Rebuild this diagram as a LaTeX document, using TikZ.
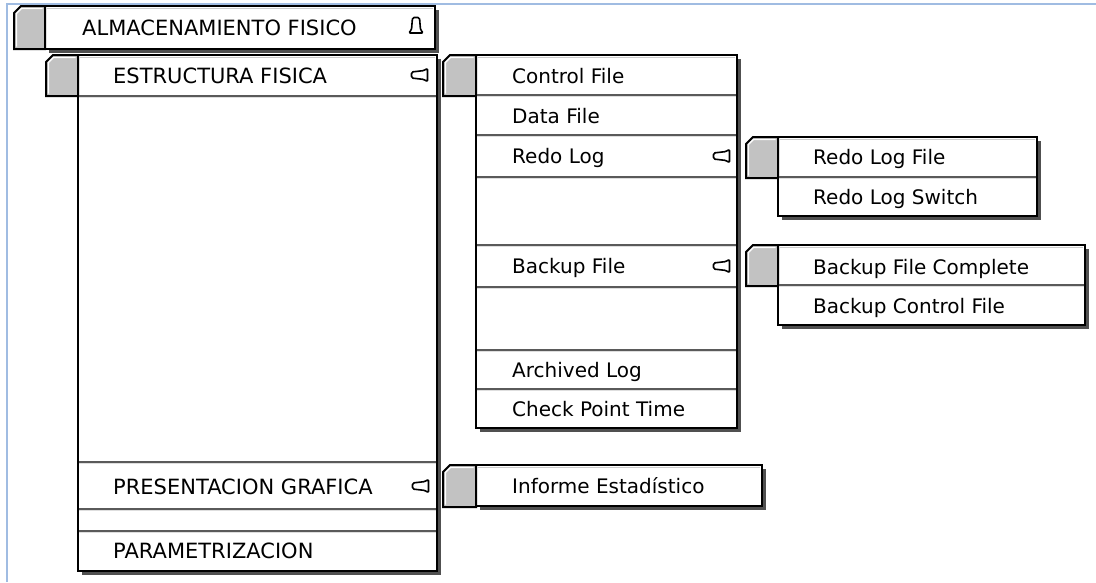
\documentclass[tikz,border=0pt]{standalone}
\usepackage{fontspec}
\newfontfamily\uifont{DejaVu Sans}
\definecolor{frameblue}{RGB}{160,188,226}
\definecolor{tabgrey}{RGB}{194,194,194}
\definecolor{shadowgrey}{RGB}{80,80,80}
\definecolor{sepdark}{RGB}{90,90,90}
\definecolor{seplight}{RGB}{222,222,222}

\tikzset{
  outline/.style={draw=black, line width=2pt, line join=miter},
  item/.style={anchor=base west, inner sep=0pt, font=\uifont\fontsize{20}{24}\selectfont, text=black},
  capsitem/.style={item, font=\uifont\fontsize{21}{25}\selectfont},
  bellline/.style={draw=black, line width=1.6pt, line join=round, rounded corners=1.5pt},
}

% white panel with a dark drop shadow on its right and bottom edges
\newcommand{\menupanel}[4]{%
  \fill[shadowgrey] (#1+3.5,#2+3.5) rectangle (#3+3.5,#4+3.5);
  \filldraw[fill=white, outline] (#1,#2) rectangle (#3,#4);
  \draw[gray!40, line width=1pt] (#1+2,#2+2.5) -- (#3-2,#2+2.5);
}
% grey tab with a chamfered top-left corner
\newcommand{\menutab}[4]{%
  \filldraw[fill=tabgrey, outline] (#1,#2+7) -- (#1+7,#2) -- (#3,#2) -- (#3,#4) -- (#1,#4) -- cycle;
  \draw[white, line width=1.2pt] (#1+2.5,#4-2.5) -- (#1+2.5,#2+7.5) -- (#1+7.5,#2+2.5) -- (#3-2.5,#2+2.5);
}
% etched row separator
\newcommand{\rowsep}[3]{%
  \draw[sepdark, line width=1.6pt] (#1+1,#3) -- (#2-1,#3);
  \draw[seplight, line width=1pt] (#1+1,#3+1.8) -- (#2-1,#3+1.8);
}
% expanded marker (bell pointing up)
\newcommand{\upbell}[2]{%
  \draw[bellline] (#1-7.5,#2+8.5) -- (#1-4.5,#2+5.5) -- (#1-3.5,#2-7) -- (#1+3.5,#2-7)
    -- (#1+4.5,#2+5.5) -- (#1+7.5,#2+8.5) -- cycle;
}
% submenu marker (bell pointing left)
\newcommand{\sidebell}[2]{%
  \draw[bellline] (#1+8.5,#2-7) -- (#1+5.5,#2-4.5) -- (#1-7.5,#2-3) -- (#1-7.5,#2+3)
    -- (#1+5.5,#2+4.5) -- (#1+8.5,#2+7) -- cycle;
}

\begin{document}
\begin{tikzpicture}[x=1pt, y=-1pt]
\useasboundingbox (0,0) rectangle (1096,582);
\fill[white] (0,0) rectangle (1096,582);
\draw[frameblue, line width=2pt] (7,582) -- (7,4) -- (1096,4);

% top level
\menupanel{45}{6}{435}{49}
\menutab{14}{6}{45}{49}
\node[capsitem] (almac) at (82,35) {ALMACENAMIENTO FISICO};
\upbell{416}{24.5}

% ESTRUCTURA FISICA menu
\menupanel{78}{55}{437}{571}
\menutab{46}{55}{78}{96}
\rowsep{78}{437}{96}
\rowsep{78}{437}{462}
\rowsep{78}{437}{509}
\rowsep{78}{437}{531}
\node[capsitem] (estr) at (113,83) {ESTRUCTURA FISICA};
\sidebell{419}{75}
\node[capsitem] (pres) at (113,494.5) {PRESENTACION GRAFICA};
\sidebell{420}{486}
\node[capsitem] (param) at (113,558) {PARAMETRIZACION};

% file list
\menupanel{476}{55}{737}{428}
\menutab{443}{55}{476}{96}
\rowsep{476}{737}{95}
\rowsep{476}{737}{135}
\rowsep{476}{737}{177}
\rowsep{476}{737}{245}
\rowsep{476}{737}{287}
\rowsep{476}{737}{350}
\rowsep{476}{737}{389}
\node[item] (ctl) at (512,83) {Control File};
\node[item] (data) at (512,123) {Data File};
\node[item] (redo) at (512,163.5) {Redo Log};
\sidebell{721}{156}
\node[item] (bkp) at (512,273.5) {Backup File};
\sidebell{721}{266}
\node[item] (arch) at (512,377) {Archived Log};
\node[item] (chk) at (512,416) {Check Point Time};

% redo log submenu
\menupanel{778}{137}{1037}{216}
\menutab{746}{137}{778}{178}
\rowsep{778}{1037}{177}
\node[item] (redofile) at (813,164.5) {Redo Log File};
\node[item] (redosw) at (813,204) {Redo Log Switch};

% backup submenu
\menupanel{778}{245}{1085}{325}
\menutab{746}{245}{778}{286}
\rowsep{778}{1085}{285}
\node[item] (bkpall) at (813,274) {Backup File Complete};
\node[item] (bkpctl) at (813,313) {Backup Control File};

% graphical presentation submenu
\menupanel{476}{465}{762}{506}
\menutab{443}{465}{476}{507}
\node[item] (inf) at (512,493) {Informe Estadístico};
\end{tikzpicture}
\end{document}
